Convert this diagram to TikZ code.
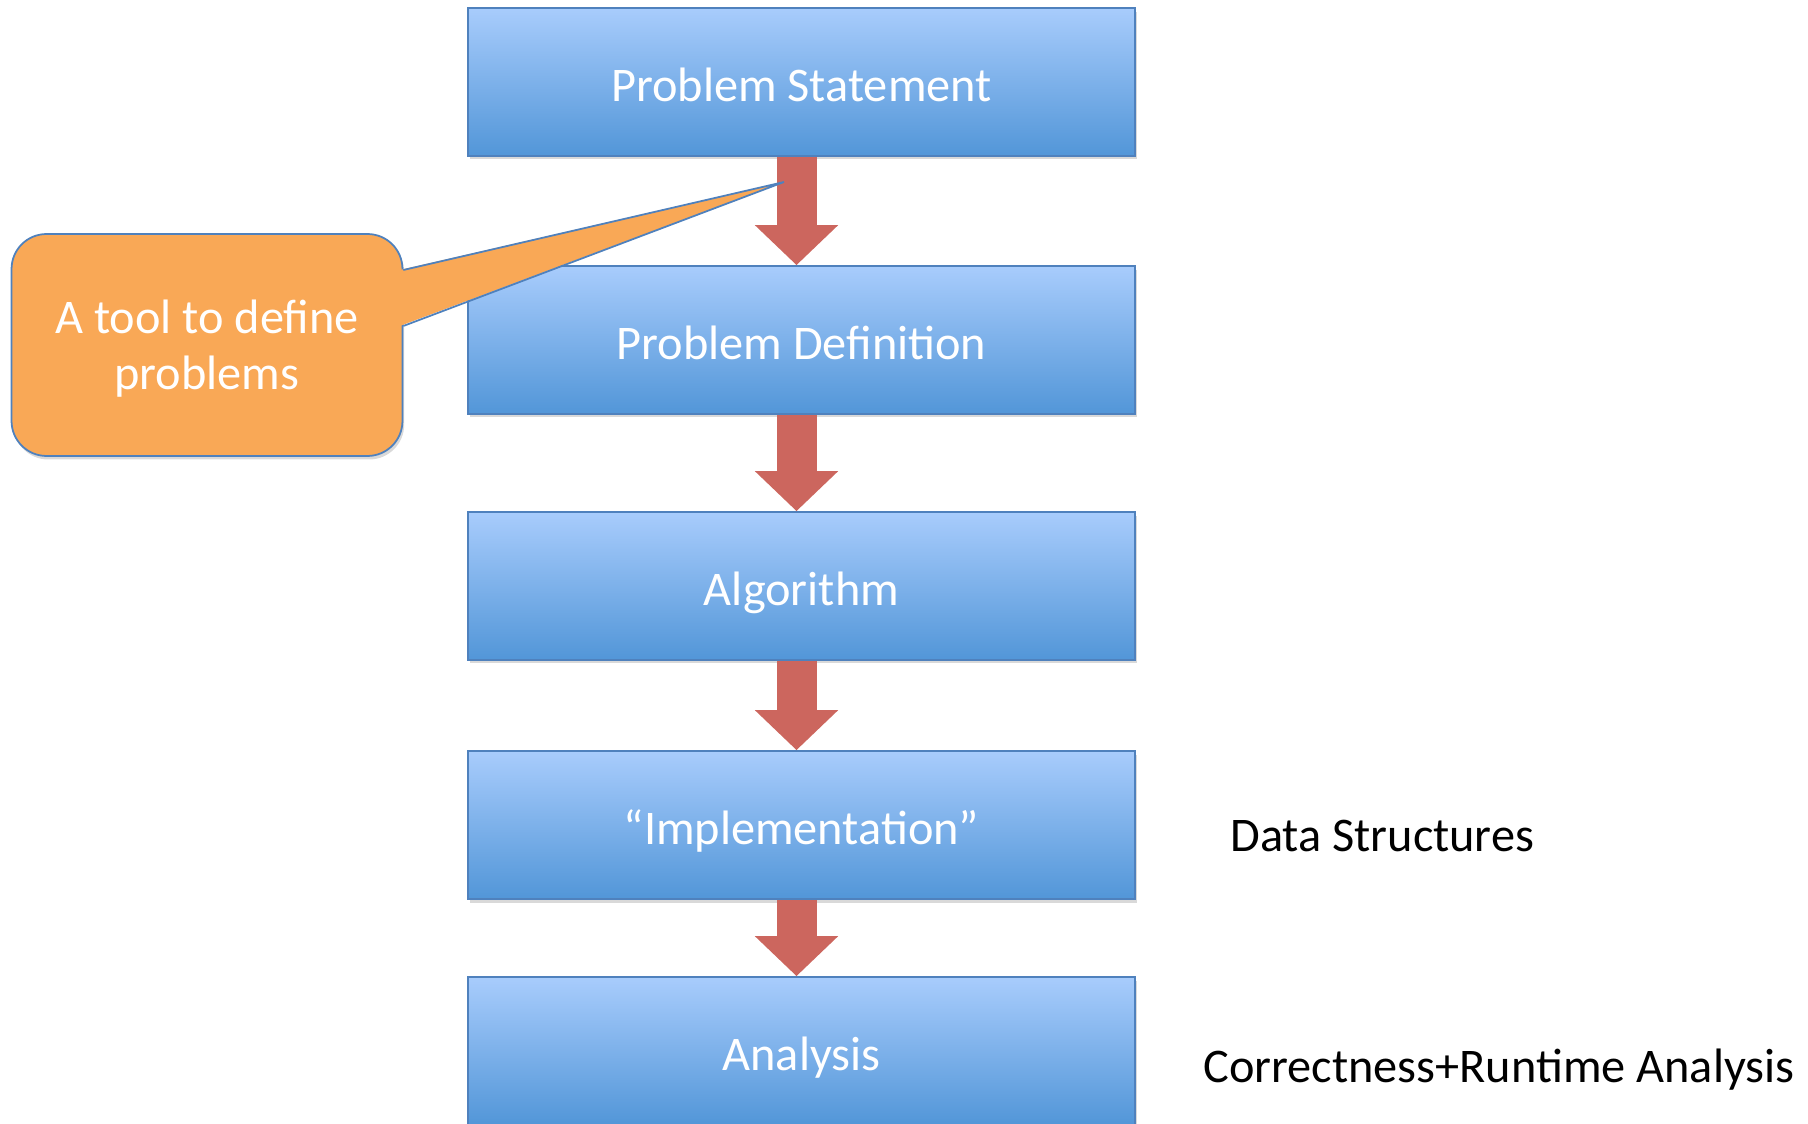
\documentclass[tikz,border=0pt]{standalone}
\usepackage{fontspec}
\setmainfont{Carlito}
\usetikzlibrary{arrows.meta,shadows,calc}

\definecolor{boxtop}{RGB}{168,204,252}
\definecolor{boxbot}{RGB}{82,150,216}
\definecolor{boxline}{RGB}{79,129,189}
\definecolor{arrowred}{RGB}{204,102,94}
\definecolor{notefill}{RGB}{249,168,86}

\tikzset{
	stage/.style={draw=boxline, line width=1pt, top color=boxtop, bottom color=boxbot,
		minimum width=13.34cm, minimum height=2.96cm, text=white,
		text height=22pt, text depth=0pt,
		font=\fontsize{27.5}{32}\selectfont,
		drop shadow={opacity=0.3, shadow xshift=1pt, shadow yshift=-2pt}},
	flow/.style={draw=arrowred, line width=0.8cm, -{Triangle[width=1.62cm,length=0.8cm]}},
	note/.style={draw=boxline, line width=1pt, fill=notefill, rounded corners=0.7cm,
		minimum width=7.82cm, minimum height=4.44cm, text=white, align=center,
		text depth=0pt, font=\fontsize{27.5}{32}\selectfont,
		drop shadow={opacity=0.3, shadow xshift=1pt, shadow yshift=-2pt}},
	aside/.style={anchor=west, inner sep=0pt, font=\fontsize{27.5}{32}\selectfont}
}

\begin{document}
\begin{tikzpicture}[x=0.02cm, y=-0.02cm]
	\useasboundingbox (0,0) rectangle (1808,1124);

	\node[stage] (statement) at (801.5,82) {Problem Statement};
	\node[stage] (definition) at (801.5,340) {Problem Definition};
	\node[stage] (algorithm) at (801.5,586) {Algorithm};
	\node[stage] (implementation) at (801.5,825) {“Implementation”};
	\node[stage] (analysis) at (801.5,1051) {Analysis};

	\draw[flow] ([xshift=-0.1cm]statement.south) -- ([xshift=-0.1cm]definition.north);
	\draw[flow] ([xshift=-0.1cm]definition.south) -- ([xshift=-0.1cm]algorithm.north);
	\draw[flow] ([xshift=-0.1cm]algorithm.south) -- ([xshift=-0.1cm]implementation.north);
	\draw[flow] ([xshift=-0.1cm]implementation.south) -- ([xshift=-0.1cm]analysis.north);

	\node[note] (tool) at (207,345) {A tool to define\\problems};
	\coordinate (tip) at (784,182);
	\coordinate (base-top) at ($(tool.east)+(0,-75)$);
	\coordinate (base-bottom) at ($(tool.east)+(0,-19)$);
	\fill[notefill] (tip) -- ([xshift=-2pt]base-top) -- ([xshift=-2pt]base-bottom) -- cycle;
	\draw[boxline, line width=1pt] (base-top) -- (tip) -- (base-bottom);

	\node[aside] (structures) at (1230,836) {Data Structures};
	\node[aside] (runtime) at (1203,1070) {Correctness+Runtime Analysis};
\end{tikzpicture}
\end{document}
